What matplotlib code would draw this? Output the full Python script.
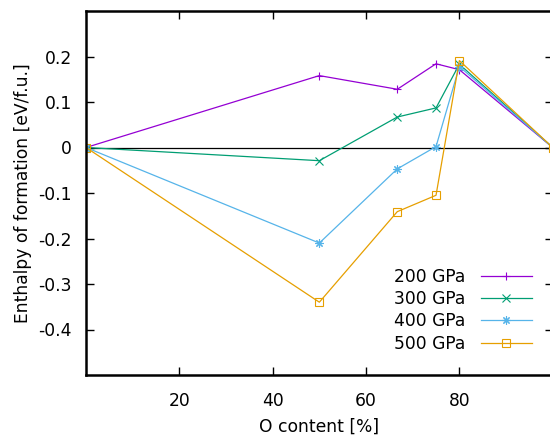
import numpy as np
import matplotlib
matplotlib.use("Agg")
import matplotlib.pyplot as plt

# données
o_content = [0, 50, 66.7, 75, 80, 100]
h_200 = [0, 0.158, 0.128, 0.184, 0.171, 0]
h_300 = [0, -0.029, 0.067, 0.087, 0.183, 0]
h_400 = [0, -0.210, -0.047, 0.002, 0.178, 0]
h_500 = [0, -0.340, -0.141, -0.105, 0.191, 0]

labels = ["200 GPa", "300 GPa", "400 GPa", "500 GPa"]
colors = ["#9400d3", "#009e73", "#56b4e9", "#e69f00"]
markers = ["+", "x", (8, 2, 0), "s"]
series = [h_200, h_300, h_400, h_500]

xticks = [20, 40, 60, 80]
yticks = [-0.4, -0.3, -0.2, -0.1, 0, 0.1, 0.2]
ytick_labels = ["-0.4", "-0.3", "-0.2", "-0.1", "0", "0.1", "0.2"]

fs = 12.3
plt.rcParams["font.family"] = "DejaVu Sans"
plt.rcParams["font.size"] = fs

fig = plt.figure(figsize=(5.5, 4.37), dpi=100)
ax = fig.add_axes([86/550, 62/437, 466.7/550, 364/437])

ax.axhline(0, color="black", lw=0.9, zorder=1)

for y, lab, c, m in zip(series, labels, colors, markers):
    mfc = "none" if m == "s" else c
    ms = 5.5 if m == "s" else 6
    ax.plot(o_content, y, color=c, lw=0.9, marker=m, markersize=ms,
            markerfacecolor=mfc, markeredgewidth=0.8, label=lab, zorder=2)

ax.set_xlim(0, 100)
ax.set_ylim(-0.5, 0.3)
ax.set_xticks(xticks)
ax.set_yticks(yticks)
ax.set_yticklabels(ytick_labels)
ax.tick_params(direction="in", top=True, right=True, length=6, width=1,
               labelsize=fs, pad=10, colors="black")
ax.tick_params(axis="x", pad=12)

for s in ax.spines.values():
    s.set_linewidth(1.8)

ax.set_xlabel("O content [%]", fontsize=fs, labelpad=6)
ax.set_ylabel("Enthalpy of formation [eV/f.u.]", fontsize=fs, labelpad=5)

ax.legend(loc="lower right", bbox_to_anchor=(0.97, 0.043), frameon=False,
          markerfirst=False, handlelength=3.0, labelspacing=0.24,
          handletextpad=0.9, borderaxespad=0, fontsize=fs)

plt.savefig("out.png", dpi=100)
